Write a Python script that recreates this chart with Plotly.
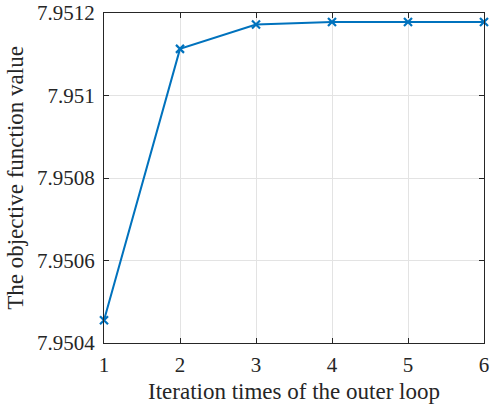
import plotly.graph_objects as go

# Outer-loop iterations and the objective value reached at each one
iterations = [1, 2, 3, 4, 5, 6]
objective = [7.950455, 7.951113, 7.951172, 7.951178, 7.951178, 7.951178]

x_ticks = [1, 2, 3, 4, 5, 6]
y_ticks = [7.9504, 7.9506, 7.9508, 7.9510, 7.9512]
y_tick_text = ["7.9504", "7.9506", "7.9508", "7.951", "7.9512"]

blue = "#0072BD"
axis_color = "#262626"
font_family = "Liberation Serif, Times New Roman, serif"

fig = go.Figure()
fig.add_trace(go.Scatter(
    x=iterations, y=objective,
    mode="lines+markers",
    line=dict(color=blue, width=2),
    marker=dict(symbol="x-thin", size=8, color=blue,
                line=dict(color=blue, width=2.2)),
    cliponaxis=False,
    showlegend=False,
))

axis_common = dict(
    showline=True, linecolor=axis_color, linewidth=1,
    mirror="ticks", ticks="inside", ticklen=5, tickcolor=axis_color,
    showgrid=True, gridcolor="#e3e3e3", gridwidth=1,
    zeroline=False, automargin=False,
    tickfont=dict(family=font_family, size=21, color=axis_color),
)

fig.update_xaxes(
    range=[1, 6], tickvals=x_ticks,
    ticklabelstandoff=3,
    title=dict(text="Iteration times of the outer loop",
               font=dict(family=font_family, size=23, color=axis_color),
               standoff=6),
    **axis_common,
)
fig.update_yaxes(
    range=[7.9504, 7.9512], tickvals=y_ticks, ticktext=y_tick_text,
    ticklabelstandoff=4,
    title=dict(text="The objective function value",
               font=dict(family=font_family, size=23, color=axis_color),
               standoff=6),
    **axis_common,
)

fig.update_layout(
    width=490, height=405,
    margin=dict(l=104, r=6, t=13, b=62),
    paper_bgcolor="white", plot_bgcolor="white",
)

fig.write_html("out.html")
